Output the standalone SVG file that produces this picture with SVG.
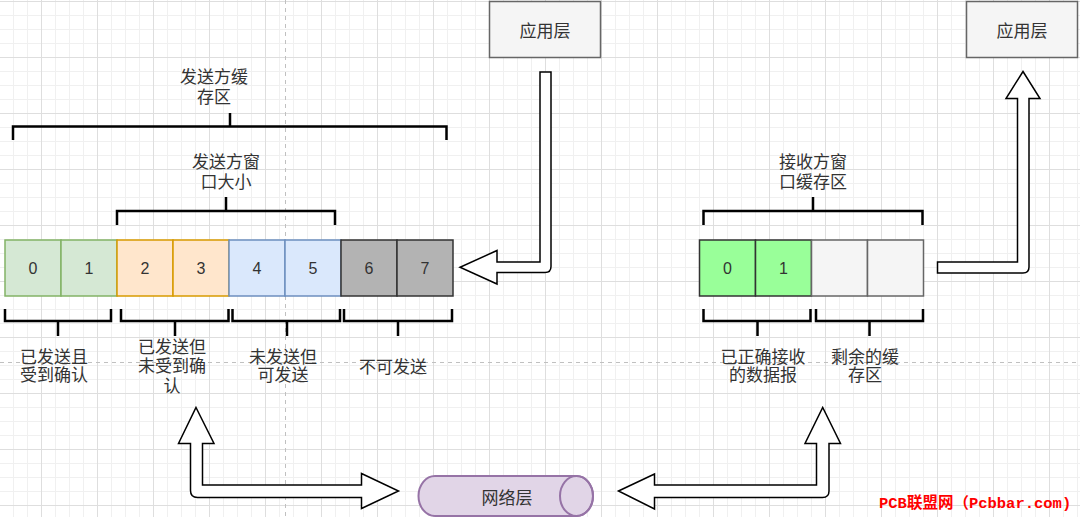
<svg xmlns="http://www.w3.org/2000/svg" width="1080" height="517" viewBox="0 0 1080 517">
<defs>
<pattern id="grid" x="-15" y="1" width="56" height="56" patternUnits="userSpaceOnUse">
<rect x="14" y="0" width="1" height="56" fill="#f0f0f0"/>
<rect x="28" y="0" width="1" height="56" fill="#f0f0f0"/>
<rect x="42" y="0" width="1" height="56" fill="#f0f0f0"/>
<rect x="0" y="14" width="56" height="1" fill="#f0f0f0"/>
<rect x="0" y="28" width="56" height="1" fill="#f0f0f0"/>
<rect x="0" y="42" width="56" height="1" fill="#f0f0f0"/>
<rect x="0" y="0" width="1" height="56" fill="#dedede"/>
<rect x="0" y="0" width="56" height="1" fill="#dedede"/>
</pattern>
<style>
.t{font-family:'Liberation Sans','Noto Sans CJK SC',sans-serif;font-size:17px;fill:#333;text-anchor:middle}
.n{font-family:'Liberation Sans','Noto Sans CJK SC',sans-serif;font-size:16px;fill:#333;text-anchor:middle}
.br{fill:none;stroke:#000;stroke-width:2.5}
.ar{fill:#fff;stroke:#000;stroke-width:1.5;stroke-linejoin:miter}
.dash{stroke:#c0c0c0;stroke-width:1;stroke-dasharray:4 4}
.app{fill:#f5f5f5;stroke:#666;stroke-width:1.5}
.g{fill:#d5e8d4;stroke:#82b366;stroke-width:1.5}
.o{fill:#ffe6cc;stroke:#d79b00;stroke-width:1.5}
.b{fill:#dae8fc;stroke:#6c8ebf;stroke-width:1.5}
.k{fill:#b3b3b3;stroke:#333;stroke-width:1.5}
.lg{fill:#99ff99;stroke:#333;stroke-width:1.5}
.lw{fill:#f5f5f5;stroke:#666;stroke-width:1.5}
</style>
</defs>
<rect width="1080" height="517" fill="#fff"/>
<rect width="1080" height="517" fill="url(#grid)"/>
<line class="dash" x1="285.5" y1="0" x2="285.5" y2="517"/>
<line class="dash" x1="0" y1="362.5" x2="1080" y2="362.5"/>

<g id="app-send">
<rect class="app" x="489.5" y="1.5" width="111" height="56"/>
<text class="t" x="545" y="37">应用层</text>
</g>
<g id="app-recv">
<rect class="app" x="966.5" y="1.5" width="111" height="56"/>
<text class="t" x="1022" y="37">应用层</text>
</g>

<g id="send-buffer-brace">
<path class="br" d="M13 140 V126.5 H446.5 V140 M230 113 V126.5"/>
<text class="t" x="214" y="83">发送方缓</text>
<text class="t" x="214" y="103">存区</text>
</g>
<g id="send-window-brace">
<path class="br" d="M117 225 V211 H335 V225 M226 197 V211"/>
<text class="t" x="226" y="168">发送方窗</text>
<text class="t" x="226" y="188">口大小</text>
</g>

<g id="send-cells">
<rect class="g" x="5" y="240" width="56" height="56"/>
<rect class="g" x="61" y="240" width="56" height="56"/>
<rect class="o" x="117" y="240" width="56" height="56"/>
<rect class="o" x="173" y="240" width="56" height="56"/>
<rect class="b" x="229" y="240" width="56" height="56"/>
<rect class="b" x="285" y="240" width="56" height="56"/>
<rect class="k" x="341" y="240" width="56" height="56"/>
<rect class="k" x="397" y="240" width="56" height="56"/>
<text class="n" x="33" y="274">0</text>
<text class="n" x="89" y="274">1</text>
<text class="n" x="145" y="274">2</text>
<text class="n" x="201" y="274">3</text>
<text class="n" x="257" y="274">4</text>
<text class="n" x="313" y="274">5</text>
<text class="n" x="369" y="274">6</text>
<text class="n" x="425" y="274">7</text>
</g>

<g id="acked-brace">
<path class="br" d="M5 309 V321 H111 V309 M58 321 V336"/>
<text class="t" x="54" y="363">已发送且</text>
<text class="t" x="54" y="381">受到确认</text>
</g>
<g id="sent-unacked-brace">
<path class="br" d="M121 309 V321 H228.5 V309 M175 321 V336"/>
<text class="t" x="172" y="353">已发送但</text>
<text class="t" x="172" y="372">未受到确</text>
<text class="t" x="172" y="392">认</text>
</g>
<g id="sendable-brace">
<path class="br" d="M232.5 309 V321 H340 V309 M287 321 V336"/>
<text class="t" x="283" y="363">未发送但</text>
<text class="t" x="283" y="381">可发送</text>
</g>
<g id="unsendable-brace">
<path class="br" d="M344 309 V321 H452 V309 M398 321 V336"/>
<text class="t" x="393" y="373">不可发送</text>
</g>

<g id="recv-window-brace">
<path class="br" d="M703.5 225 V211 H922.5 V225 M813 197 V211"/>
<text class="t" x="813" y="168">接收方窗</text>
<text class="t" x="813" y="188">口缓存区</text>
</g>
<g id="recv-cells">
<rect class="lg" x="699.5" y="240" width="56" height="56"/>
<rect class="lg" x="755.5" y="240" width="56" height="56"/>
<rect class="lw" x="811.5" y="240" width="56" height="56"/>
<rect class="lw" x="867.5" y="240" width="56" height="56"/>
<text class="n" x="727.5" y="274">0</text>
<text class="n" x="783.5" y="274">1</text>
</g>
<g id="received-brace">
<path class="br" d="M703.5 309 V321 H810.5 V309 M757.5 321 V336"/>
<text class="t" x="763" y="363">已正确接收</text>
<text class="t" x="763" y="381">的数据报</text>
</g>
<g id="free-brace">
<path class="br" d="M816 309 V321 H923 V309 M869.5 321 V336"/>
<text class="t" x="865" y="363">剩余的缓</text>
<text class="t" x="865" y="381">存区</text>
</g>

<g id="network-layer">
<path d="M435 476 H576.5 A16.5 20 0 0 1 576.5 516 H435 A16.5 20 0 0 1 435 476 Z" fill="#e1d5e7" stroke="#9673a6" stroke-width="2"/>
<ellipse cx="576.5" cy="496" rx="16.5" ry="20" fill="none" stroke="#9673a6" stroke-width="2"/>
<text class="t" x="507" y="504">网络层</text>
</g>

<g id="connectors">
<path class="ar" d="M540 72 H551 V266.5 Q551 272.5 545 272.5 H497 V284 L460 267.3 L497 250.5 V262 H540 Z"/>
<path class="ar" d="M937.5 262 H1017.5 V98.5 H1006 L1023 71.5 L1040 98.5 H1029 V267 Q1029 273 1023 273 H937.5 Z"/>
<path class="ar" d="M196 407.5 L214 443.5 H202.5 V485 H361.5 V473.5 L398.5 491 L361.5 508.5 V497.5 H197.5 Q190.5 497.5 190.5 490.5 V443.5 H178.5 Z"/>
<path class="ar" d="M618.5 491 L654.5 474 V485 H816.5 V443.5 H805 L822.7 407.5 L840.5 443.5 H829 V491 Q829 497.5 822.5 497.5 H654.5 V509 Z"/>
</g>

<text x="879" y="508" font-family="'Liberation Mono','Noto Sans CJK SC',monospace" font-size="15.5" font-weight="bold" fill="#ff0000">PCB联盟网（Pcbbar.com)</text>
</svg>
